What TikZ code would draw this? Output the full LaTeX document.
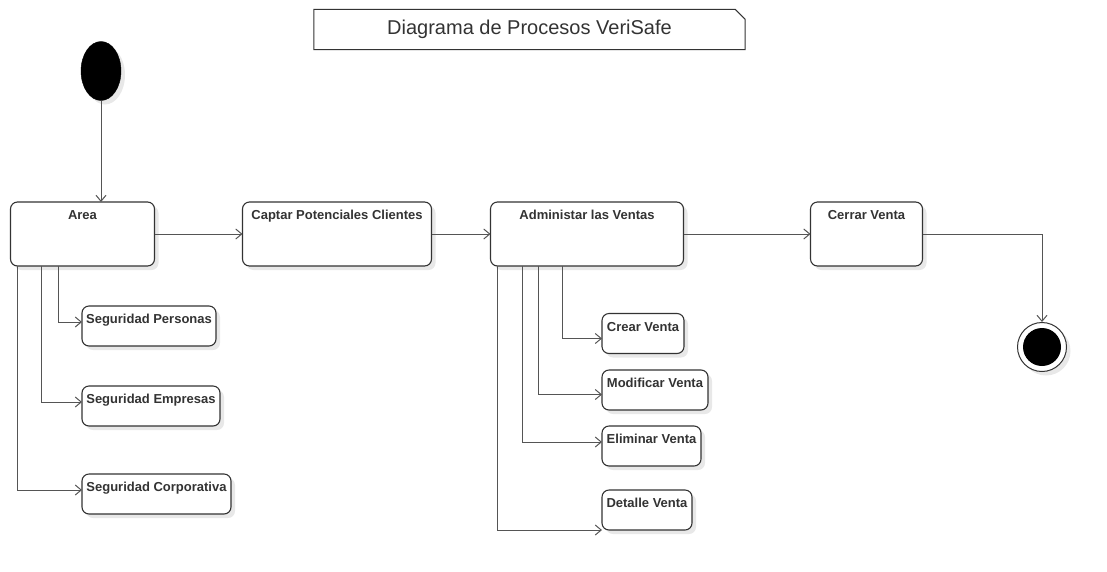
\documentclass[tikz,border=0pt]{standalone}
\usepackage{fontspec}
\setmainfont{Liberation Sans}
\usepackage{tikz}
\usetikzlibrary{positioning,shapes.geometric,shadows,arrows.meta}
\definecolor{lineGray}{RGB}{85,85,85}
\definecolor{boxGray}{RGB}{51,51,51}
\tikzstyle{softshadow} = [drop shadow={shadow xshift=4pt, shadow yshift=-4pt, fill=black!9, opacity=1}]
\tikzstyle{activity}   = [rectangle, rounded corners=7pt, draw=boxGray, line width=1.1pt, fill=white, softshadow, outer sep=0pt,
                          font=\fontsize{13}{15}\selectfont\bfseries, text=boxGray, inner xsep=2pt, inner ysep=3.5pt, text height=14pt]
\tikzstyle{arrow}      = [lineGray, line width=1pt, -{Straight Barb[length=6pt,width=10pt]}]

\begin{document}
\begin{tikzpicture}[x=1pt, y=-1pt,
		main/.style={minimum height=64pt, text depth=43pt},
		sub/.style={minimum height=40pt, text depth=19pt, anchor=north west}]
		\useasboundingbox (0,0) rectangle (1107,571);
		\node[minimum width=431pt, minimum height=40pt, inner sep=0, text=boxGray,
			font=\fontsize{20}{23}\selectfont] (title) at (529.5,29.5) {Diagrama de Procesos VeriSafe};
		\draw[boxGray, line width=1pt] (title.north west) -- ([xshift=-10pt]title.north east)
			-- ([yshift=-10pt]title.north east) -- (title.south east) -- (title.south west) -- cycle;
		\node[ellipse, draw=black, fill=black, minimum width=40pt, minimum height=59pt, inner sep=0, softshadow] (start) at (101,71) {};
		\node[activity, main, minimum width=144pt, anchor=north west] (area) at (10.5,202) {Area};
		\node[activity, main, minimum width=189pt, right=88pt of area] (captar) {Captar Potenciales Clientes};
		\node[activity, main, minimum width=193pt, right=59pt of captar] (admin) {Administar las Ventas};
		\node[activity, main, minimum width=112pt, right=127pt of admin] (cerrar) {Cerrar Venta};
		\node[circle, draw=boxGray, fill=white, line width=1pt, minimum size=49pt, inner sep=0, softshadow,
			path picture={\fill[black] (path picture bounding box.center) circle (19pt);}] (fin) at (1042,347) {};
		\node[activity, sub, minimum width=134pt] (segPersonas) at (82,306) {Seguridad Personas};
		\node[activity, sub, minimum width=138pt] (segEmpresas) at (82,386) {Seguridad Empresas};
		\node[activity, sub, minimum width=149pt] (segCorporativa) at (82,474) {Seguridad Corporativa};
		\node[activity, sub, minimum width=82pt] (crearVenta) at (602,313.5) {Crear Venta};
		\node[activity, sub, minimum width=106pt] (modVenta) at (602,370) {Modificar Venta};
		\node[activity, sub, minimum width=99pt] (elimVenta) at (602,426) {Eliminar Venta};
		\node[activity, sub, minimum width=90pt] (detVenta) at (602,490) {Detalle Venta};
		\draw[arrow] (start) -- (start |- area.north);
		\draw[arrow] (area) -- (captar);
		\draw[arrow] (captar) -- (admin);
		\draw[arrow] (admin) -- (cerrar);
		\draw[arrow] (cerrar) -| (fin);
		\draw[arrow] ([xshift=48pt]area.south west) |- ([yshift=4pt]segPersonas.west);
		\draw[arrow] ([xshift=31pt]area.south west) |- ([yshift=4pt]segEmpresas.west);
		\draw[arrow] ([xshift=7pt]area.south west) |- ([yshift=4pt]segCorporativa.west);
		\draw[arrow] ([xshift=72pt]admin.south west) |- ([yshift=-5pt]crearVenta.west);
		\draw[arrow] ([xshift=48pt]admin.south west) |- ([yshift=-4.5pt]modVenta.west);
		\draw[arrow] ([xshift=32pt]admin.south west) |- ([yshift=4pt]elimVenta.west);
		\draw[arrow] ([xshift=7pt]admin.south west) |- (detVenta.south west);
	\end{tikzpicture}
\end{document}
